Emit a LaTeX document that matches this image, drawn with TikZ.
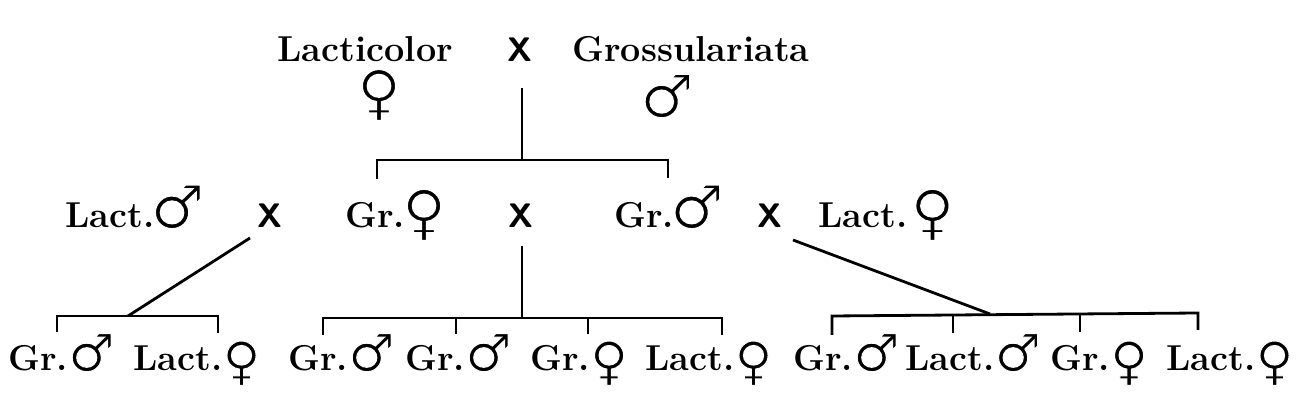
\documentclass[tikz,border=0pt]{standalone}
\usepackage{fontspec}
\newfontfamily\symf{DejaVu Sans}
% thin the DejaVu symbol strokes a little (white outline over the glyph edge), scoped in q/Q
\newcommand\thinsym[2]{\special{pdf:bcontent}\special{pdf:literal 2 Tr 1 G #1 w}#2\special{pdf:econtent}}
% bottom-row symbols
\newcommand\Fm{{\symf\mdseries\fontsize{26}{26}\selectfont\raisebox{-4pt}{\thinsym{0.55}{♀}}}}
\newcommand\Ml{{\symf\mdseries\fontsize{26}{26}\selectfont\thinsym{0.55}{♂}}}
% middle-row symbols
\newcommand\MFm{{\symf\mdseries\fontsize{30}{30}\selectfont\kern-1.5pt\raisebox{-2.5pt}{\thinsym{0.75}{♀}}}}
\newcommand\MMl{{\symf\mdseries\fontsize{30}{30}\selectfont\kern-2pt\thinsym{0.75}{♂}}}
% top-row symbols
\newcommand\BFm{{\symf\mdseries\fontsize{30}{30}\selectfont\thinsym{0.8}{♀}}}
\newcommand\BMl{{\symf\mdseries\fontsize{30}{30}\selectfont\thinsym{0.8}{♂}}}
\begin{document}
\begin{tikzpicture}[x=0.5pt,y=-0.5pt,
  lbl/.style={inner sep=0pt, anchor=base west, font=\bfseries\fontsize{18}{20}\selectfont},
  crossx/.style={inner sep=0pt, anchor=base, font=\sffamily\bfseries\fontsize{17}{20}\selectfont},
  sym/.style={inner sep=0pt},
  ln/.style={line width=1.4pt}]
\useasboundingbox (0,0) rectangle (1296,410);
% top row
\node[lbl] (lac) at (277,62) {Lacticolor};
\node[crossx] (x0) at (520,62) {X};
\node[lbl] (gro) at (572,62) {Grossulariata};
\node[sym] (f0) at (379,95) {\BFm};
\node[sym] (m0) at (667,96) {\BMl};
\coordinate (t0) at (522,88);
\coordinate (j0) at (522,160);
\coordinate (b0l) at (377,160);
\coordinate (b0r) at (668,160);
\coordinate (b0ld) at (377,179);
\coordinate (b0rd) at (668,178);
\draw[ln] (t0) -- (j0);
\draw[ln] (b0ld) -- (b0l) -- (b0r) -- (b0rd);
% middle row
\node[lbl] (m1) at (65,228) {Lact.\MMl};
\node[crossx] (x1) at (270,228) {X};
\node[lbl] (m2) at (345,228) {Gr.\MFm};
\node[crossx] (x2) at (521,228) {X};
\node[lbl] (m3) at (614,228) {Gr.\MMl};
\node[crossx] (x3) at (770,228) {X};
\node[lbl] (m4) at (818,228) {Lact.\,\MFm};
% connectors middle -> bottom
\coordinate (s1) at (250,238);
\coordinate (j1) at (128,316);
\coordinate (s2) at (522,246);
\coordinate (j2) at (522,318);
\coordinate (s3) at (793,240);
\coordinate (j3) at (990,314);
\draw[ln] (s1) -- (j1);
\draw[ln] (s2) -- (j2);
\draw[ln] (s3) -- (j3);
% bottom brackets
\coordinate (a1) at (57,316); \coordinate (a1d) at (57,332);
\coordinate (a2) at (218,316); \coordinate (a2d) at (218,333);
\draw[ln] (a1d) -- (a1) -- (a2) -- (a2d);
\coordinate (c1) at (323,318); \coordinate (c1d) at (323,335);
\coordinate (c2) at (456,318); \coordinate (c2d) at (456,334);
\coordinate (c3) at (588,318); \coordinate (c3d) at (588,334);
\coordinate (c4) at (722,318); \coordinate (c4d) at (722,335);
\draw[ln] (c1d) -- (c1) -- (c4) -- (c4d);
\draw[ln] (c2) -- (c2d);
\draw[ln] (c3) -- (c3d);
\coordinate (e1) at (832,316); \coordinate (e1d) at (832,335);
\coordinate (e2) at (953,315); \coordinate (e2d) at (953,333);
\coordinate (e3) at (1080,314); \coordinate (e3d) at (1080,332);
\coordinate (e4) at (1198,313); \coordinate (e4d) at (1198,330);
\draw[ln] (e1d) -- (e1) -- (e4) -- (e4d);
\draw[ln] (e2) -- (e2d);
\draw[ln] (e3) -- (e3d);
% bottom row
\node[lbl] (n1) at (8,371) {Gr.\Ml};
\node[lbl] (n2) at (133,371) {Lact.\Fm};
\node[lbl] (n3) at (288,371) {Gr.\Ml};
\node[lbl] (n4) at (405,371) {Gr.\Ml};
\node[lbl] (n5) at (530,371) {Gr.\Fm};
\node[lbl] (n6) at (645,371) {Lact.\Fm};
\node[lbl] (n7) at (793,371) {Gr.\Ml};
\node[lbl] (n8) at (905,371) {Lact.\Ml};
\node[lbl] (n9) at (1050,371) {Gr.\Fm};
\node[lbl] (n10) at (1166,371) {Lact.\Fm};
\end{tikzpicture}
\end{document}
